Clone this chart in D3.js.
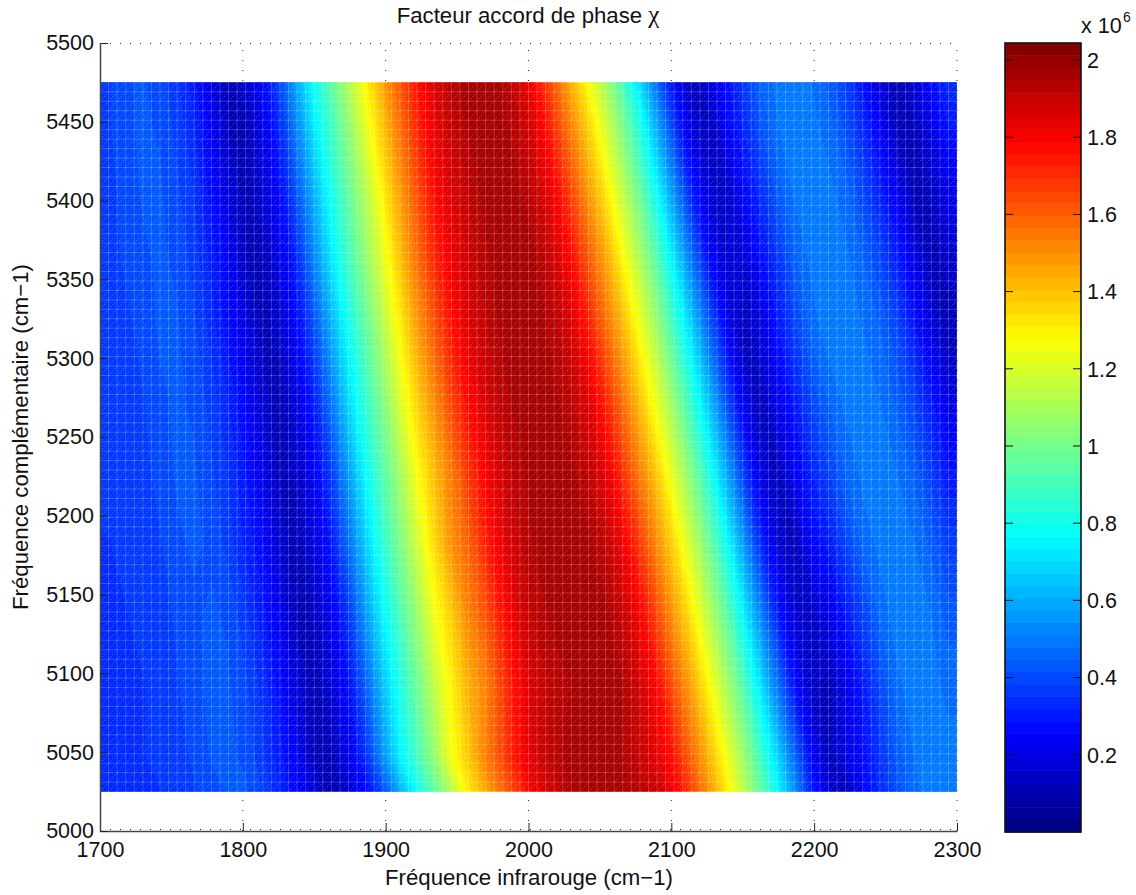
<!DOCTYPE html>
<html>
<head>
<meta charset="utf-8">
<script src="https://cdn.jsdelivr.net/npm/d3@7"></script>
<style>
  html, body { margin: 0; background: #fff; }
  text { font-family: "Liberation Sans", sans-serif; fill: #111; }
</style>
</head>
<body>
<svg id="chart" width="1136" height="895"></svg>
<script>
const xTicks = [1700, 1800, 1900, 2000, 2100, 2200, 2300];
const yTicks = [5000, 5050, 5100, 5150, 5200, 5250, 5300, 5350, 5400, 5450, 5500];
const barTicks = [0.2, 0.4, 0.6, 0.8, 1, 1.2, 1.4, 1.6, 1.8, 2];
const barLabels = ['0.2', '0.4', '0.6', '0.8', '1', '1.2', '1.4', '1.6', '1.8', '2'];

// facteur, in units of 1e4; 50 columns (1706..2294 by 12)
const chiRow5475 = [38,41,42,40,36,30,20,10,16,26,40,60,79,95,112,129,146,162,176,186,193,197,198,195,188,176,161,143,127,109,90,70,46,26,12,18,27,36,45,49,50,48,44,38,28,18,10,18,27,34];
const chiRow5452 = [38,41,42,41,37,32,23,12,12,22,34,54,74,90,106,124,141,158,173,184,191,196,198,196,191,182,168,151,135,117,99,80,57,34,18,12,25,33,42,48,50,49,46,40,32,23,11,13,22,30];
const chiRow5407 = [37,40,42,42,39,35,27,18,10,17,27,43,62,81,97,113,131,148,164,178,186,192,197,198,195,189,180,165,148,132,114,96,76,53,31,17,14,26,34,43,49,50,49,46,39,31,22,10,14,22];
const chiRow5362 = [37,39,41,42,41,37,31,24,13,11,21,33,52,72,89,105,122,140,157,172,182,189,194,197,197,195,188,178,162,146,129,111,93,72,49,28,16,16,27,35,44,49,50,49,45,39,31,21,10,15];
const chiRow5317 = [36,37,40,42,42,39,34,27,20,11,15,26,40,60,79,95,112,130,147,162,175,185,191,196,198,197,193,187,175,159,143,126,108,89,69,46,26,12,18,28,37,46,50,50,48,45,39,30,20,10];
const chiRow5272 = [36,37,38,41,42,41,37,32,25,15,10,20,31,49,69,86,102,120,137,151,166,178,187,193,197,198,196,192,185,173,157,140,123,105,86,65,42,23,12,21,30,39,45,49,50,48,44,38,30,20];
const chiRow5227 = [36,36,37,40,42,42,39,35,29,21,12,14,24,37,57,77,93,109,127,141,155,169,180,189,194,197,198,196,191,184,170,154,138,120,102,83,61,38,20,12,23,32,38,45,49,50,48,44,37,29];
const chiRow5182 = [35,36,36,38,41,42,41,37,31,26,16,10,19,30,47,67,85,101,118,135,150,160,173,184,191,196,197,198,196,191,182,168,151,135,117,99,80,57,34,18,11,25,30,38,46,49,50,48,44,37];
const chiRow5137 = [35,35,36,37,39,41,42,41,36,30,22,11,13,23,36,56,75,91,107,125,138,153,163,176,187,193,196,197,198,196,190,180,165,148,132,114,96,76,53,31,17,14,21,30,38,46,50,50,48,43];
const chiRow5092 = [35,35,35,36,38,41,42,42,39,34,27,18,10,18,28,44,64,82,98,115,130,144,153,168,180,189,193,195,197,198,195,188,178,162,146,129,111,93,72,49,28,14,11,21,30,39,47,50,49,47];
const chiRow5047 = [35,35,35,36,37,39,42,42,41,36,30,23,11,11,22,34,54,74,90,106,126,139,154,166,179,188,193,197,198,197,195,190,184,175,159,143,126,108,89,69,46,26,12,19,27,35,43,48,50,49];
const chiRow5025 = [35,35,35,35,37,38,40,42,42,38,32,26,18,9,16,26,40,60,79,95,112,132,145,158,171,183,190,195,197,198,196,193,190,181,167,150,133,115,97,78,55,32,17,12,25,33,40,47,50,50];
const chiRows = [chiRow5475, chiRow5452, chiRow5407, chiRow5362, chiRow5317, chiRow5272, chiRow5227, chiRow5182, chiRow5137, chiRow5092, chiRow5047, chiRow5025];

const chiMin = 0;
const chiMax = 204.4;
const colorLevels = d3.range(64);

const left = 100, right = 957, top_ = 43, bottom = 831;
const barLeft = 1005, barRight = 1081, barTop = 43, barBottom = 832;
const tickFont = 21.5, labelFont = 22.2;

// matlab jet
function jet(i) {
  const t = (i + 0.5) / 64;
  const ch = v => Math.round(255 * Math.max(0, Math.min(1, v)));
  const r = 1.5 - Math.abs(4 * t - 3);
  const g = 1.5 - Math.abs(4 * t - 2);
  const b = 1.5 - Math.abs(4 * t - 1);
  return `rgb(${ch(r)},${ch(g)},${ch(b)})`;
}

const svg = d3.select('#chart');
const x = d3.scaleLinear().domain([1700, 2300]).range([left, right]);
const y = d3.scaleLinear().domain([5000, 5500]).range([bottom, top_]);
const barY = d3.scaleLinear().domain([0, 2.044]).range([barBottom, barTop]);

// dotted grid, only seen in the empty strips above and below the surface
const grid = svg.append('g').attr('fill', 'none').attr('stroke', '#222').attr('stroke-dasharray', '1,9');
grid.selectAll('.vgrid').data(xTicks.slice(1)).join('line').attr('class', 'vgrid')
  .attr('x1', d => x(d)).attr('x2', d => x(d)).attr('y1', bottom).attr('y2', top_);
grid.selectAll('.hgrid').data([5000, 5500]).join('line').attr('class', 'hgrid')
  .attr('x1', left).attr('x2', right).attr('y1', d => y(d) + 0.5 - (d === 5000 ? 2 : 0)).attr('y2', d => y(d) + 0.5 - (d === 5000 ? 2 : 0));

// surface: one filled contour for each of the 64 colours, columns padded so the cut edges stay outside the clip
const paddedRows = chiRows.map(row => [row[0], ...row, row[row.length - 1]]);
const nCols = paddedRows[0].length, nRows = paddedRows.length;
const gridX = d3.scaleLinear().domain([0.5, nCols - 0.5]).range([x(1694), x(2306)]);
const gridY = d3.scaleLinear().domain([0.5, 1.5, nRows - 1.5, nRows - 0.5]).range([y(5475), y(5452.5), y(5047.5), y(5025)]);
const project = d3.geoTransform({
  point(px, py) {
    this.stream.point(gridX(px), gridY(py));
  }
});
const path = d3.geoPath(project);
const levelValue = i => chiMin + (i * (chiMax - chiMin)) / 64;
const contours = d3.contours().size([nCols, nRows]).thresholds(colorLevels.map(levelValue))(paddedRows.flat());
svg.append('clipPath').attr('id', 'surface-clip').append('rect')
  .attr('x', x(1700)).attr('y', y(5475)).attr('width', x(2300) - x(1700)).attr('height', y(5025) - y(5475));
const surface = svg.append('g').attr('clip-path', 'url(#surface-clip)');
surface.selectAll('path').data(contours).join('path')
  .attr('d', path)
  .attr('fill', (d, i) => jet(colorLevels[i]));

// faceted mesh of the surface, 6 cm-1 cells
const meshX = d3.range(1700, 2300.1, 6);
const meshY = d3.range(5025, 5475.1, 6);
const meshLine = d3.path();
meshX.forEach(f => {
  meshLine.moveTo(x(f), y(5025));
  meshLine.lineTo(x(f), y(5475));
});
meshY.forEach(f => {
  meshLine.moveTo(x(1700), y(f));
  meshLine.lineTo(x(2300), y(f));
});
svg.append('path').attr('d', meshLine.toString()).attr('fill', 'none')
  .attr('stroke', '#fff').attr('stroke-opacity', 0.2);
const meshDiag = d3.path();
meshX.slice(1).forEach(f => {
  meshY.slice(1).forEach(g => {
    meshDiag.moveTo(x(f - 6), y(g - 6));
    meshDiag.lineTo(x(f), y(g));
  });
});
svg.append('path').attr('d', meshDiag.toString()).attr('fill', 'none')
  .attr('stroke', '#fff').attr('stroke-opacity', 0.35).attr('stroke-dasharray', '1,2');

// axes
const xAxis = svg.append('g').attr('transform', `translate(0,${bottom})`)
  .call(d3.axisBottom(x).tickValues(xTicks).tickFormat(d3.format('d')).tickSizeInner(-8).tickSizeOuter(0).tickPadding(11));
const yAxis = svg.append('g').attr('transform', `translate(${left},0)`)
  .call(d3.axisLeft(y).tickValues(yTicks).tickFormat(d3.format('d')).tickSizeInner(-8).tickSizeOuter(0).tickPadding(6));
[xAxis, yAxis].forEach(a => {
  a.selectAll('text').attr('font-size', tickFont).attr('font-family', '"Liberation Sans", sans-serif');
  a.selectAll('line').attr('stroke', '#222');
  a.select('.domain').attr('stroke', '#444').attr('stroke-width', 1.5);
});

const title = svg.append('text').attr('x', 528).attr('y', 23).attr('text-anchor', 'middle').attr('font-size', labelFont)
  .text('Facteur accord de phase ');
title.append('tspan').style('font-family', '"Liberation Serif", serif').attr('font-size', 25).text('χ');
svg.append('text').attr('x', 529).attr('y', 885).attr('text-anchor', 'middle').attr('font-size', labelFont)
  .text('Fréquence infrarouge (cm−1)');
svg.append('text').attr('transform', 'translate(28,437) rotate(-90)').attr('text-anchor', 'middle').attr('font-size', labelFont)
  .text('Fréquence complémentaire (cm−1)');

// colorbar
const bar = svg.append('g');
const barEdge = i => barY((i * 2.044) / 64);
bar.selectAll('rect').data(colorLevels).join('rect')
  .attr('x', barLeft).attr('width', barRight - barLeft)
  .attr('y', d => barEdge(d + 1)).attr('height', d => barEdge(d) - barEdge(d + 1) + 0.5)
  .attr('fill', d => jet(d));
bar.append('rect').attr('x', barLeft).attr('y', barTop).attr('width', barRight - barLeft).attr('height', barBottom - barTop)
  .attr('fill', 'none').attr('stroke', '#111').attr('stroke-width', 1.6);
barTicks.forEach((v, i) => {
  bar.append('line').attr('x1', barLeft).attr('x2', barLeft + 8).attr('y1', barY(v)).attr('y2', barY(v)).attr('stroke', '#111');
  bar.append('line').attr('x1', barRight - 8).attr('x2', barRight).attr('y1', barY(v)).attr('y2', barY(v)).attr('stroke', '#111');
  bar.append('text').attr('x', barRight + 6).attr('y', barY(v)).attr('dy', '0.36em').attr('font-size', tickFont).text(barLabels[i]);
});
svg.append('text').attr('x', 1081).attr('y', 33).attr('font-size', tickFont).text('x 10');
svg.append('text').attr('x', 1123).attr('y', 22).attr('font-size', 14).text('6');
</script>
</body>
</html>
